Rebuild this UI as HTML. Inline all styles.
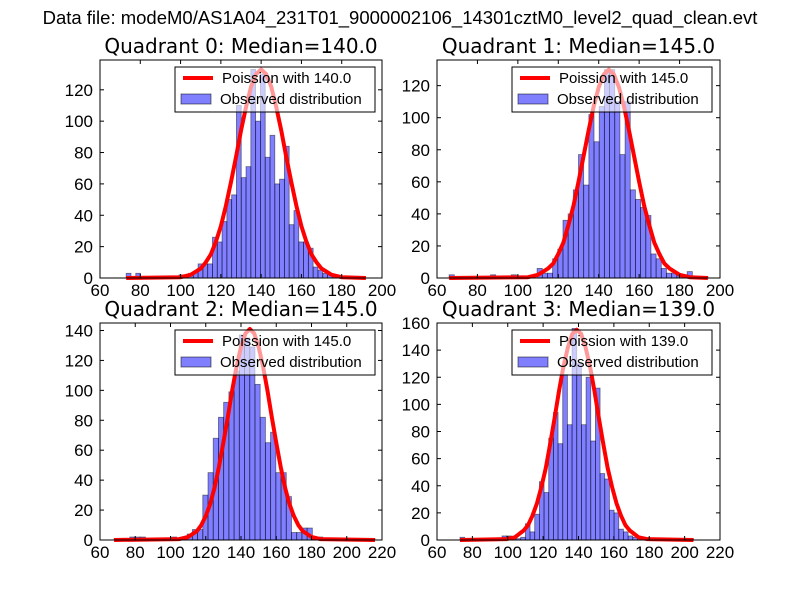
<!DOCTYPE html>
<html><head><meta charset="utf-8"><style>
body{margin:0;background:#fff;}
svg{display:block;font-family:"Liberation Sans","DejaVu Sans",sans-serif;}
</style></head><body>
<svg id="fig" width="800" height="600" viewBox="0 0 800 600">
<rect width="800" height="600" fill="#fff"/>
<text x="400" y="24" font-size="18.5" text-anchor="middle">Data file: modeM0/AS1A04_231T01_9000002106_14301cztM0_level2_quad_clean.evt</text>
</svg>
<script>
// Quadrant 0
const q0Counts=[3,0,3,1,1,0,1,0,0,1,0,2,0,3,4,9,9,9,26,23,36,50,53,110,64,71,133,100,130,77,91,60,63,84,34,43,23,23,19,7,5,3,2,1,1,0,1,1,1,0];
const q0CurveX=[73,100,105,110,112.5,115,117.5,120,122.5,125,127.5,130,132.5,135,137.5,140,142.5,145,147.5,150,152.5,155,157.5,160,162.5,165,167.5,170,175,180,192];
const q0CurveY=[0,0.5,2,6,10,15,23,33,46,61,77,94,109,122,130,133,130,122,109,94,77,61,46,33,23,15,10,6,2,0.5,0];
// Quadrant 1
const q1Counts=[2,0,0,0,0,1,0,0,2,0,0,0,2,0,0,0,0,6,3,3,12,18,36,40,55,77,58,102,85,107,130,130,110,77,110,55,49,44,39,15,12,6,3,3,2,2,4,1,0,1];
const q1CurveX=[66,105,110,115,117.5,120,122.5,125,127.5,130,132.5,135,137.5,140,142.5,145,147.5,150,152.5,155,157.5,160,162.5,165,167.5,170,172.5,175,180,185,194];
const q1CurveY=[0,0.5,2,6,9,15,22,33,45,60,76,92,107,119,127,130,127,119,107,92,76,60,45,33,22,15,9,6,2,0.5,0];
// Quadrant 2
const q2Counts=[1,0,0,2,2,2,1,1,0,0,1,2,0,0,4,7,7,30,45,68,82,92,99,113,137,135,129,104,82,65,72,45,45,29,5,5,8,8,1,2,0,0,0,0,0,0,0,0,0,1];
const q2CurveX=[68,105,110,115,117.5,120,122.5,125,127.5,130,132.5,135,137.5,140,142.5,145,147.5,150,152.5,155,157.5,160,162.5,165,167.5,170,172.5,175,180,185,216];
const q2CurveY=[0,0.6,2,6,10,16,24,35,49,65,82,100,116,129,138,141,138,129,116,100,82,65,49,35,24,16,10,6,2,0.6,0];
// Quadrant 3
const q3Counts=[2,1,1,1,1,1,1,0,0,3,3,2,1,2,12,6,19,43,35,75,94,71,122,85,156,130,85,120,73,112,49,45,22,20,8,6,3,2,1,0,0,0,0,0,0,0,0,0,0,1];
const q3CurveX=[73,99,104,109,111.5,114,116.5,119,121.5,124,126.5,129,131.5,134,136.5,139,141.5,144,146.5,149,151.5,154,156.5,159,161.5,164,166.5,169,174,179,205];
const q3CurveY=[0,0.6,2,7,11,18,27,39,53,71,90,110,128,142,152,155,152,142,128,110,90,71,53,39,27,18,11,7,2,0.6,0];

const q0XTicks=[60,80,100,120,140,160,180,200];
const q0YTicks=[0,20,40,60,80,100,120];
const q1XTicks=[60,80,100,120,140,160,180,200];
const q1YTicks=[0,20,40,60,80,100,120];
const q2XTicks=[60,80,100,120,140,160,180,200,220];
const q2YTicks=[0,20,40,60,80,100,120,140];
const q3XTicks=[60,80,100,120,140,160,180,200,220];
const q3YTicks=[0,20,40,60,80,100,120,140,160];

const NS="http://www.w3.org/2000/svg";
const svg=document.getElementById('fig');
function mk(tag,attrs,parent){const e=document.createElementNS(NS,tag);for(const k in attrs)e.setAttribute(k,attrs[k]);(parent||svg).appendChild(e);return e;}

const panels=[
 {idx:0,counts:q0Counts,start:73,end:192,cx:q0CurveX,cy:q0CurveY,xt:q0XTicks,yt:q0YTicks,xmin:60,xmax:200,ymax:139,x0:100,x1:382,y0:60,y1:278,title:"Quadrant 0: Median=140.0",leg:"Poission with 140.0"},
 {idx:1,counts:q1Counts,start:66,end:194,cx:q1CurveX,cy:q1CurveY,xt:q1XTicks,yt:q1YTicks,xmin:60,xmax:200,ymax:136,x0:437,x1:720,y0:60,y1:278,title:"Quadrant 1: Median=145.0",leg:"Poission with 145.0"},
 {idx:2,counts:q2Counts,start:68,end:216,cx:q2CurveX,cy:q2CurveY,xt:q2XTicks,yt:q2YTicks,xmin:60,xmax:220,ymax:145,x0:100,x1:382,y0:323,y1:540,title:"Quadrant 2: Median=145.0",leg:"Poission with 145.0"},
 {idx:3,counts:q3Counts,start:73,end:205,cx:q3CurveX,cy:q3CurveY,xt:q3XTicks,yt:q3YTicks,xmin:60,xmax:220,ymax:160,x0:437,x1:720,y0:323,y1:540,title:"Quadrant 3: Median=139.0",leg:"Poission with 139.0"}
];

panels.forEach(p=>{
 const sx=v=>p.x0+(v-p.xmin)/(p.xmax-p.xmin)*(p.x1-p.x0);
 const sy=v=>p.y1-v/p.ymax*(p.y1-p.y0);
 const g=mk('g',{});
 
 
 const w=(p.end-p.start)/p.counts.length;
 p.counts.forEach((c,i)=>{
  if(c<=0)return;
  const a=sx(p.start+i*w),b=sx(p.start+(i+1)*w);
  const r=mk('rect',{x:a,y:sy(c),width:b-a,height:sy(0)-sy(c),fill:'rgba(0,0,255,0.5)',stroke:'rgba(0,0,0,0.5)','stroke-width':0.8},g);
  
  
 });
 const pts=p.cx.map((x,i)=>sx(x)+','+sy(p.cy[i])).join(' ');
 const pl=mk('polyline',{points:pts,fill:'none',stroke:'#ff0000','stroke-width':4,'stroke-linejoin':'round'},g);
 
 
 const fr=mk('rect',{x:p.x0,y:p.y0,width:p.x1-p.x0,height:p.y1-p.y0,fill:'none',stroke:'#000','stroke-width':1},g);
 
 
 p.xt.forEach(t=>{
  const x=sx(t);
  mk('line',{x1:x,x2:x,y1:p.y1,y2:p.y1-4,stroke:'#000'},g);
  mk('line',{x1:x,x2:x,y1:p.y0,y2:p.y0+4,stroke:'#000'},g);
  const tx=mk('text',{x:x,y:p.y1+18,'font-size':17,'text-anchor':'middle'},g);
  tx.textContent=t;
  
  
 });
 p.yt.forEach(t=>{
  const y=sy(t);
  mk('line',{x1:p.x0,x2:p.x0+4,y1:y,y2:y,stroke:'#000'},g);
  mk('line',{x1:p.x1,x2:p.x1-4,y1:y,y2:y,stroke:'#000'},g);
  const tx=mk('text',{x:p.x0-7,y:y+6,'font-size':17,'text-anchor':'end'},g);
  tx.textContent=t;
  
  
 });
 const tt=mk('text',{x:(p.x0+p.x1)/2,y:p.y0-7,'font-size':20,'text-anchor':'middle','font-family':'"DejaVu Sans",sans-serif'},g);
 tt.textContent=p.title;
 
 
 const lx=p.x0+75,ly=p.y0+7;
 const lg=mk('g',{},g);
 
 
 mk('rect',{x:lx,y:ly,width:200,height:45,fill:'rgba(255,255,255,0.6)',stroke:'#000','stroke-width':1},lg);
 mk('line',{x1:lx+8,x2:lx+38,y1:ly+11,y2:ly+11,stroke:'#ff0000','stroke-width':4},lg);
 const t1=mk('text',{x:lx+47,y:ly+16,'font-size':15},lg);
 t1.textContent=p.leg;
 
 
 mk('rect',{x:lx+6,y:ly+27,width:30,height:10,fill:'rgba(0,0,255,0.5)',stroke:'rgba(0,0,0,0.5)'},lg);
 const t2=mk('text',{x:lx+45,y:ly+37,'font-size':15},lg);
 t2.textContent="Observed distribution";
 
 
});
</script>
</body></html>
